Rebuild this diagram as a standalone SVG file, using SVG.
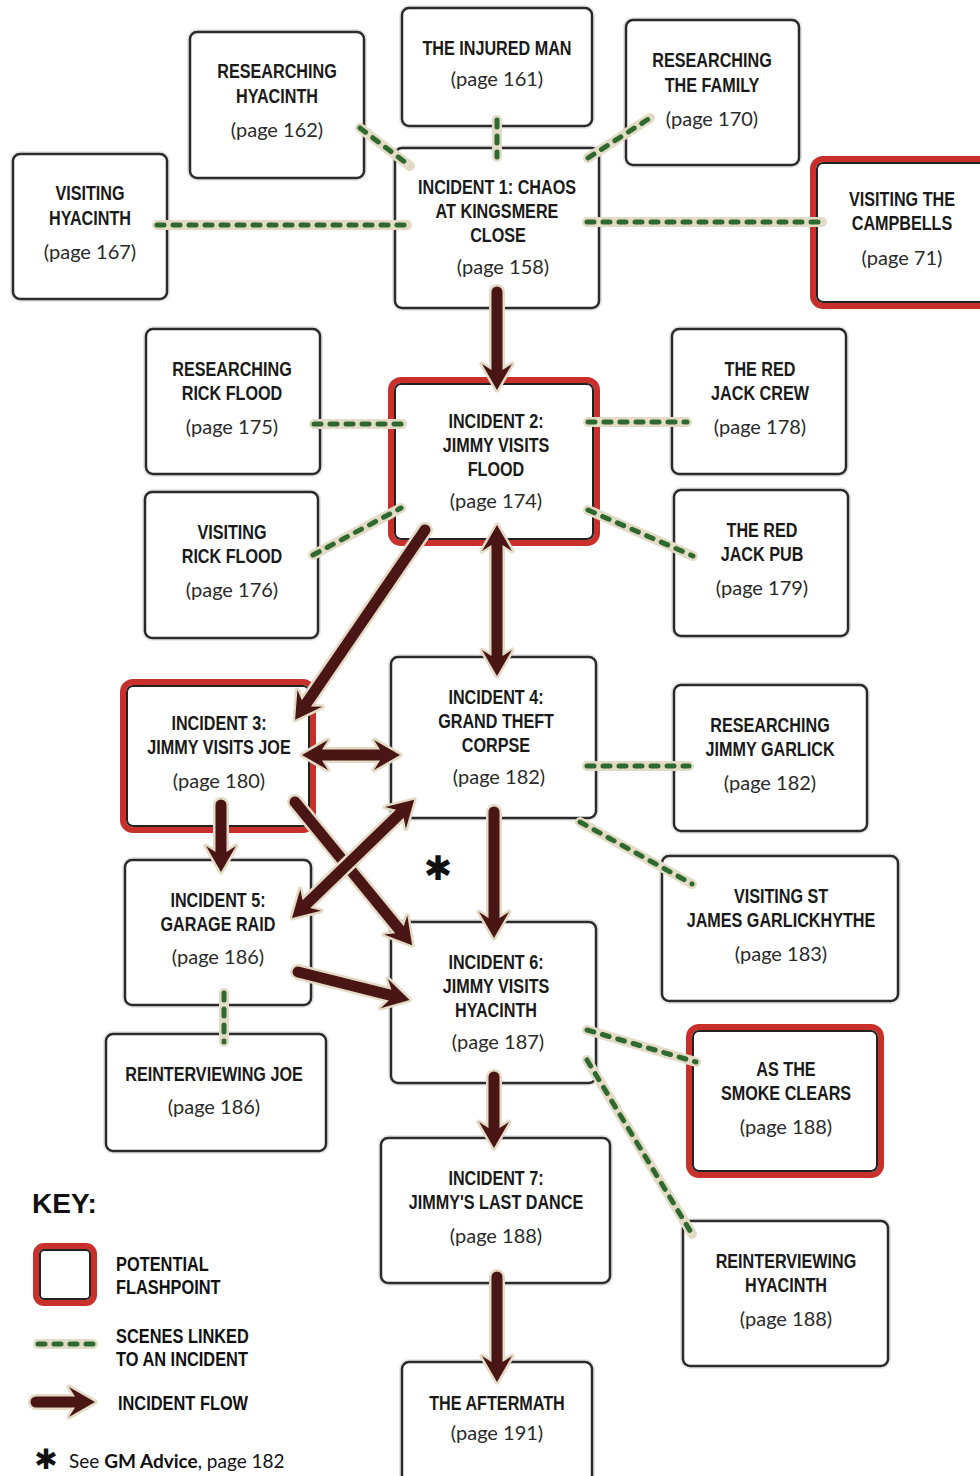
<svg xmlns="http://www.w3.org/2000/svg" width="980" height="1476" viewBox="0 0 980 1476">
<style>
.bg{fill:#ffffff}
.glow{fill:none;stroke:#e6e6e6;stroke-width:6}
.box{fill:#ffffff;stroke:#2b2b2b;stroke-width:2.5}
.red{fill:#ffffff;stroke:#c9302c;stroke-width:6}
.inner{fill:none;stroke:#222222;stroke-width:2}
.t{font-family:"Liberation Sans",Arial,sans-serif;font-weight:bold;font-size:21px;fill:#1a1a1a;text-anchor:middle;transform-box:fill-box;transform-origin:center;transform:scaleX(0.77)}
.p{font-family:Lato,"Liberation Sans",sans-serif;font-size:20px;fill:#2a2a2a;text-anchor:middle}
.halo{fill:none;stroke:#e3dbc5;stroke-width:10;stroke-linecap:round}
.dash{fill:none;stroke:#2e6a2f;stroke-width:5;stroke-linecap:round;stroke-dasharray:7 9}
.arr{fill:#4a1515;stroke:#e3dbc5;stroke-width:5;stroke-linejoin:round;paint-order:stroke}
.key{font-family:"Liberation Sans",Arial,sans-serif;font-weight:bold;font-size:21px;fill:#111111;transform-box:fill-box;transform-origin:left center;transform:scaleX(0.78)}
.star{font-family:"DejaVu Sans","Liberation Sans",sans-serif;font-weight:bold;fill:#111111;text-anchor:middle}
</style>
<rect class="bg" x="0" y="0" width="980" height="1476"/>

<g id="researching-hyacinth">
<rect class="glow" x="190" y="32" width="174" height="146" rx="7"/>
<rect class="box" x="190" y="32" width="174" height="146" rx="7"/>
<text class="t" x="277" y="78">RESEARCHING</text>
<text class="t" x="277" y="103">HYACINTH</text>
<text class="p" x="277" y="137">(page 162)</text>
</g>
<g id="injured-man">
<rect class="glow" x="402" y="8" width="190" height="118" rx="7"/>
<rect class="box" x="402" y="8" width="190" height="118" rx="7"/>
<text class="t" x="497" y="55">THE INJURED MAN</text>
<text class="p" x="497" y="86">(page 161)</text>
</g>
<g id="researching-family">
<rect class="glow" x="626" y="20" width="173" height="145" rx="7"/>
<rect class="box" x="626" y="20" width="173" height="145" rx="7"/>
<text class="t" x="712" y="67">RESEARCHING</text>
<text class="t" x="712" y="92">THE FAMILY</text>
<text class="p" x="712" y="126">(page 170)</text>
</g>
<g id="visiting-hyacinth">
<rect class="glow" x="13" y="154" width="154" height="145" rx="7"/>
<rect class="box" x="13" y="154" width="154" height="145" rx="7"/>
<text class="t" x="90" y="200">VISITING</text>
<text class="t" x="90" y="225">HYACINTH</text>
<text class="p" x="90" y="259">(page 167)</text>
</g>
<g id="incident-1">
<rect class="glow" x="395" y="148" width="204" height="160" rx="7"/>
<rect class="box" x="395" y="148" width="204" height="160" rx="7"/>
<text class="t" x="497" y="194">INCIDENT 1: CHAOS</text>
<text class="t" x="497" y="218">AT KINGSMERE</text>
<text class="t" x="498" y="242">CLOSE</text>
<text class="p" x="503" y="274">(page 158)</text>
</g>
<g id="visiting-campbells">
<rect class="red" x="813" y="159" width="180" height="147" rx="10"/>
<rect class="inner" x="817" y="163" width="172" height="139" rx="6"/>
<text class="t" x="902" y="206">VISITING THE</text>
<text class="t" x="902" y="230">CAMPBELLS</text>
<text class="p" x="902" y="265">(page 71)</text>
</g>
<g id="researching-rick-flood">
<rect class="glow" x="146" y="329" width="174" height="145" rx="7"/>
<rect class="box" x="146" y="329" width="174" height="145" rx="7"/>
<text class="t" x="232" y="376">RESEARCHING</text>
<text class="t" x="232" y="400">RICK FLOOD</text>
<text class="p" x="232" y="434">(page 175)</text>
</g>
<g id="incident-2">
<rect class="red" x="391" y="380" width="206" height="163" rx="10"/>
<rect class="inner" x="395" y="384" width="198" height="155" rx="6"/>
<text class="t" x="496" y="428">INCIDENT 2:</text>
<text class="t" x="496" y="452">JIMMY VISITS</text>
<text class="t" x="496" y="476">FLOOD</text>
<text class="p" x="496" y="508">(page 174)</text>
</g>
<g id="red-jack-crew">
<rect class="glow" x="672" y="329" width="174" height="145" rx="7"/>
<rect class="box" x="672" y="329" width="174" height="145" rx="7"/>
<text class="t" x="760" y="376">THE RED</text>
<text class="t" x="760" y="400">JACK CREW</text>
<text class="p" x="760" y="434">(page 178)</text>
</g>
<g id="visiting-rick-flood">
<rect class="glow" x="145" y="492" width="173" height="146" rx="7"/>
<rect class="box" x="145" y="492" width="173" height="146" rx="7"/>
<text class="t" x="232" y="539">VISITING</text>
<text class="t" x="232" y="563">RICK FLOOD</text>
<text class="p" x="232" y="597">(page 176)</text>
</g>
<g id="red-jack-pub">
<rect class="glow" x="674" y="490" width="174" height="146" rx="7"/>
<rect class="box" x="674" y="490" width="174" height="146" rx="7"/>
<text class="t" x="762" y="537">THE RED</text>
<text class="t" x="762" y="561">JACK PUB</text>
<text class="p" x="762" y="595">(page 179)</text>
</g>
<g id="incident-3">
<rect class="red" x="123" y="682" width="190" height="148" rx="10"/>
<rect class="inner" x="127" y="686" width="182" height="140" rx="6"/>
<text class="t" x="219" y="730">INCIDENT 3:</text>
<text class="t" x="219" y="754">JIMMY VISITS JOE</text>
<text class="p" x="219" y="788">(page 180)</text>
</g>
<g id="incident-4">
<rect class="glow" x="391" y="657" width="205" height="161" rx="7"/>
<rect class="box" x="391" y="657" width="205" height="161" rx="7"/>
<text class="t" x="496" y="704">INCIDENT 4:</text>
<text class="t" x="496" y="728">GRAND THEFT</text>
<text class="t" x="496" y="752">CORPSE</text>
<text class="p" x="499" y="784">(page 182)</text>
</g>
<g id="researching-jimmy-garlick">
<rect class="glow" x="674" y="685" width="193" height="146" rx="7"/>
<rect class="box" x="674" y="685" width="193" height="146" rx="7"/>
<text class="t" x="770" y="732">RESEARCHING</text>
<text class="t" x="770" y="756">JIMMY GARLICK</text>
<text class="p" x="770" y="790">(page 182)</text>
</g>
<g id="incident-5">
<rect class="glow" x="125" y="860" width="186" height="145" rx="7"/>
<rect class="box" x="125" y="860" width="186" height="145" rx="7"/>
<text class="t" x="218" y="907">INCIDENT 5:</text>
<text class="t" x="218" y="931">GARAGE RAID</text>
<text class="p" x="218" y="964">(page 186)</text>
</g>
<g id="visiting-st-james">
<rect class="glow" x="662" y="856" width="236" height="145" rx="7"/>
<rect class="box" x="662" y="856" width="236" height="145" rx="7"/>
<text class="t" x="781" y="903">VISITING ST</text>
<text class="t" x="781" y="927">JAMES GARLICKHYTHE</text>
<text class="p" x="781" y="961">(page 183)</text>
</g>
<g id="incident-6">
<rect class="glow" x="391" y="922" width="205" height="161" rx="7"/>
<rect class="box" x="391" y="922" width="205" height="161" rx="7"/>
<text class="t" x="496" y="969">INCIDENT 6:</text>
<text class="t" x="496" y="993">JIMMY VISITS</text>
<text class="t" x="496" y="1017">HYACINTH</text>
<text class="p" x="498" y="1049">(page 187)</text>
</g>
<g id="reinterviewing-joe">
<rect class="glow" x="106" y="1034" width="220" height="117" rx="7"/>
<rect class="box" x="106" y="1034" width="220" height="117" rx="7"/>
<text class="t" x="214" y="1081">REINTERVIEWING JOE</text>
<text class="p" x="214" y="1114">(page 186)</text>
</g>
<g id="smoke-clears">
<rect class="red" x="689" y="1027" width="192" height="148" rx="10"/>
<rect class="inner" x="693" y="1031" width="184" height="140" rx="6"/>
<text class="t" x="786" y="1076">AS THE</text>
<text class="t" x="786" y="1100">SMOKE CLEARS</text>
<text class="p" x="786" y="1134">(page 188)</text>
</g>
<g id="incident-7">
<rect class="glow" x="381" y="1138" width="229" height="145" rx="7"/>
<rect class="box" x="381" y="1138" width="229" height="145" rx="7"/>
<text class="t" x="496" y="1185">INCIDENT 7:</text>
<text class="t" x="496" y="1209">JIMMY'S LAST DANCE</text>
<text class="p" x="496" y="1243">(page 188)</text>
</g>
<g id="reinterviewing-hyacinth">
<rect class="glow" x="683" y="1221" width="205" height="145" rx="7"/>
<rect class="box" x="683" y="1221" width="205" height="145" rx="7"/>
<text class="t" x="786" y="1268">REINTERVIEWING</text>
<text class="t" x="786" y="1292">HYACINTH</text>
<text class="p" x="786" y="1326">(page 188)</text>
</g>
<g id="aftermath">
<rect class="glow" x="402" y="1362" width="190" height="130" rx="7"/>
<rect class="box" x="402" y="1362" width="190" height="130" rx="7"/>
<text class="t" x="497" y="1410">THE AFTERMATH</text>
<text class="p" x="497" y="1440">(page 191)</text>
</g>

<g id="connectors">
<g id="scene-links">
<path class="halo" d="M360,128 L410,166 M497,120 V157 M588,158 L650,118 M157,225 H407 M587,222 H822 M314,424 H402 M588,422 H687 M313,555 L401,508 M588,510 L693,556 M587,766 H689 M580,822 L692,884 M224,993 V1042 M587,1030 L696,1062 M587,1060 L692,1234"/>
<path class="dash" d="M360,128 L410,166 M497,120 V157 M588,158 L650,118 M157,225 H407 M587,222 H822 M314,424 H402 M588,422 H687 M313,555 L401,508 M588,510 L693,556 M587,766 H689 M580,822 L692,884 M224,993 V1042 M587,1030 L696,1062 M587,1060 L692,1234"/>
</g>
<g id="incident-flow">
<path class="arr" transform="translate(497,292) rotate(90)" d="M0,-5.5 H78 L72,-15 L98,0 L72,15 L78,5.5 H0 A5.5 5.5 0 0 1 0,-5.5Z"/>
<path class="arr" transform="translate(497,525) rotate(90)" d="M20,-5.5 H131 L125,-15 L151,0 L125,15 L131,5.5 H20 L26,15 L0,0 L26,-15Z"/>
<path class="arr" transform="translate(425,530) rotate(124.38)" d="M0,-5.5 H210 L204,-15 L230,0 L204,15 L210,5.5 H0 A5.5 5.5 0 0 1 0,-5.5Z"/>
<path class="arr" transform="translate(302,755)" d="M20,-5.5 H78 L72,-15 L98,0 L72,15 L78,5.5 H20 L26,15 L0,0 L26,-15Z"/>
<path class="arr" transform="translate(295,802) rotate(50.71)" d="M0,-5.5 H165 L159,-15 L185,0 L159,15 L165,5.5 H0 A5.5 5.5 0 0 1 0,-5.5Z"/>
<path class="arr" transform="translate(292,918) rotate(-44.04)" d="M20,-5.5 H150 L144,-15 L170,0 L144,15 L150,5.5 H20 L26,15 L0,0 L26,-15Z"/>
<path class="arr" transform="translate(221,805) rotate(90)" d="M0,-5.5 H47 L41,-15 L67,0 L41,15 L47,5.5 H0 A5.5 5.5 0 0 1 0,-5.5Z"/>
<path class="arr" transform="translate(494,812) rotate(90)" d="M0,-5.5 H106 L100,-15 L126,0 L100,15 L106,5.5 H0 A5.5 5.5 0 0 1 0,-5.5Z"/>
<path class="arr" transform="translate(298,972) rotate(14.04)" d="M0,-5.5 H95 L89,-15 L115,0 L89,15 L95,5.5 H0 A5.5 5.5 0 0 1 0,-5.5Z"/>
<path class="arr" transform="translate(494,1077) rotate(90)" d="M0,-5.5 H51 L45,-15 L71,0 L45,15 L51,5.5 H0 A5.5 5.5 0 0 1 0,-5.5Z"/>
<path class="arr" transform="translate(497,1277) rotate(90)" d="M0,-5.5 H85 L79,-15 L105,0 L79,15 L85,5.5 H0 A5.5 5.5 0 0 1 0,-5.5Z"/>
</g>
</g>

<text class="star" x="438" y="880" font-size="34">✱</text>

<g id="key">
<text x="32" y="1213" font-family="'Liberation Sans',Arial,sans-serif" font-weight="bold" font-size="28" fill="#111">KEY:</text>
<rect class="red" x="36" y="1246" width="58" height="57" rx="8"/>
<rect class="inner" x="40" y="1250" width="50" height="49" rx="4"/>
<text class="key" x="116" y="1271">POTENTIAL</text>
<text class="key" x="116" y="1294">FLASHPOINT</text>
<path class="halo" d="M38,1344 H93"/>
<path class="dash" d="M38,1344 H93"/>
<text class="key" x="116" y="1343">SCENES LINKED</text>
<text class="key" x="116" y="1366">TO AN INCIDENT</text>
<path class="arr" transform="translate(36,1402)" d="M0,-5.5 H39 L33,-15 L59,0 L33,15 L39,5.5 H0 A5.5 5.5 0 0 1 0,-5.5Z"/>
<text class="key" x="118" y="1410">INCIDENT FLOW</text>
<text class="star" x="46" y="1469" font-size="28">✱</text>
<text x="69" y="1468" font-family="Lato,'Liberation Sans',sans-serif" font-size="19" fill="#111">See <tspan font-weight="bold">GM Advice</tspan>, page 182</text>
</g>
</svg>
